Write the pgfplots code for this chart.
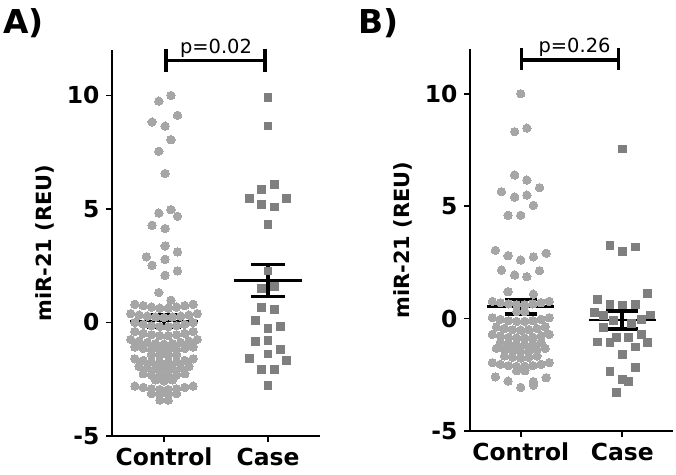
\documentclass[border=0pt]{standalone}
\usepackage{fontspec}
\setmainfont{DejaVu Sans}
\usepackage{pgfplots}
\pgfplotsset{compat=1.18}
\definecolor{ctrlgray}{RGB}{166,166,166}
\definecolor{casegray}{RGB}{127,127,127}
\pgfplotsset{
 panel/.style={
   scale only axis, clip=false,
   axis x line*=bottom, axis y line*=left,
   axis line style={line width=1.6bp, black},
   xmin=-0.5, xmax=1.5, ymin=-5, ymax=12,
   xtick={0,1}, xticklabels={Control,Case},
   ytick={-5,0,5,10}, yticklabels={-5,0,5,10},
   minor tick num=0,
   tick align=outside, major tick length=6bp,
   every tick/.style={line width=1.6bp, black},
   ticklabel style={font=\fontsize{23.5}{23.5}\selectfont\bfseries},
   xticklabel style={yshift=-5bp, inner sep=1bp},
   yticklabel style={xshift=-3bp},
   ylabel={miR-21 (REU)},
   ylabel shift=6bp,
   ylabel style={font=\fontsize{21}{21}\selectfont\bfseries},
 },
 ctrl/.style={only marks, color=ctrlgray, mark=*, mark size=4.2bp, mark options={solid, fill=ctrlgray, draw=ctrlgray, line width=0pt}},
 cas/.style={only marks, color=casegray, mark=square*, mark size=3.9bp, mark options={solid, fill=casegray, draw=casegray, line width=0pt}},
 meanl/.style={black, line width=2.5bp, mark=none},
 capl/.style={black, line width=3.5bp, mark=none},
 vl/.style={black, line width=4bp, mark=none},
 brk/.style={black, line width=3.3bp, mark=none},
}
\begin{document}
\begin{tikzpicture}
\path[use as bounding box] (0,0) rectangle (676bp,-475bp);
\node[anchor=base west, font=\fontsize{33}{33}\selectfont\bfseries, inner sep=0pt] at (3bp,-33bp) {A)};
\node[anchor=base west, font=\fontsize{33}{33}\selectfont\bfseries, inner sep=0pt] at (358bp,-33bp) {B)};

% ---------------- Panel A ----------------
\begin{axis}[panel, at={(112bp,-436bp)}, anchor=south west, width=208bp, height=386bp]
\addplot[ctrl] coordinates {
(0.067,10.0) (-0.05,9.75) (0.13,9.12) (-0.115,8.83) (0.01,8.65) (0.067,8.05) (-0.05,7.54) (0.01,6.56)
(0.067,4.97) (-0.05,4.82) (0.13,4.68) (-0.115,4.28) (0.01,4.14) (0.01,3.37) (0.13,3.11) (-0.17,2.89)
(0.01,2.78) (-0.115,2.52) (0.13,2.27) (0.01,2.08) (-0.05,1.32) (0.067,0.98)
(-0.28,0.80) (-0.20,0.74) (-0.12,0.68) (-0.04,0.63) (0.04,0.63) (0.12,0.68) (0.20,0.74) (0.28,0.80)
(-0.32,0.39) (-0.24,0.33) (-0.16,0.28) (-0.08,0.24) (0,0.22) (0.08,0.24) (0.16,0.28) (0.24,0.33) (0.32,0.39)
(-0.28,0.0) (-0.20,-0.08) (-0.12,-0.14) (-0.04,-0.18) (0.04,-0.18) (0.12,-0.14) (0.20,-0.08) (0.28,0.0)
(-0.28,-0.40) (-0.20,-0.48) (-0.12,-0.54) (-0.04,-0.58) (0.04,-0.58) (0.12,-0.54) (0.20,-0.48) (0.28,-0.40)
(-0.32,-0.75) (-0.24,-0.82) (-0.16,-0.88) (-0.08,-0.93) (0,-0.95) (0.08,-0.93) (0.16,-0.88) (0.24,-0.82) (0.32,-0.75)
(-0.28,-1.08) (-0.20,-1.14) (-0.12,-1.19) (-0.04,-1.22) (0.04,-1.22) (0.12,-1.19) (0.20,-1.14) (0.28,-1.08)
(-0.12,-1.41) (-0.04,-1.45) (0.04,-1.45) (0.12,-1.41)
(-0.28,-1.60) (-0.20,-1.67) (-0.12,-1.73) (-0.04,-1.76) (0.04,-1.76) (0.12,-1.73) (0.20,-1.67) (0.28,-1.60)
(-0.24,-1.93) (-0.16,-1.99) (-0.08,-2.04) (0,-2.06) (0.08,-2.04) (0.16,-1.99) (0.24,-1.93)
(-0.20,-2.26) (-0.12,-2.32) (-0.04,-2.36) (0.04,-2.36) (0.12,-2.32) (0.20,-2.26)
(-0.08,-2.53) (0,-2.57) (0.08,-2.53)
(-0.28,-2.80) (-0.20,-2.86) (-0.12,-2.92) (-0.04,-2.95) (0.04,-2.95) (0.12,-2.92) (0.20,-2.86) (0.28,-2.80)
(-0.12,-3.13) (-0.04,-3.17) (0.04,-3.17) (0.12,-3.13)
(-0.04,-3.42) (0.04,-3.42)
};
\addplot[cas] coordinates {
(1,9.9) (1,8.65) (1.06,6.07) (0.94,5.85) (0.82,5.46) (1.18,5.46) (0.94,5.19) (1.06,5.09) (1,4.32)
(1,2.27) (0.94,1.50) (1.06,1.57) (0.94,0.66) (1.06,0.57) (0.88,0.07) (1,-0.26) (1.12,-0.19)
(0.88,-0.85) (1,-0.81) (1.12,-1.19) (0.82,-1.60) (1,-1.39) (1.18,-1.66) (0.94,-2.07) (1.06,-2.07) (1,-2.76)
};
% mean and SEM, control
\addplot[meanl] coordinates {(-0.33,0.06) (0.33,0.06)};
\addplot[vl] coordinates {(0,0.33) (0,-0.21)};
\addplot[capl] coordinates {(-0.163,0.33) (0.163,0.33)};
\addplot[capl] coordinates {(-0.163,-0.21) (0.163,-0.21)};
% mean and SEM, case
\addplot[meanl] coordinates {(0.67,1.85) (1.33,1.85)};
\addplot[vl] coordinates {(1,2.56) (1,1.14)};
\addplot[capl] coordinates {(0.837,2.56) (1.163,2.56)};
\addplot[capl] coordinates {(0.837,1.14) (1.163,1.14)};
% bracket
\addplot[brk] coordinates {(0.02,12.06) (0.02,11.03)};
\addplot[brk] coordinates {(0.02,11.54) (0.97,11.54)};
\addplot[brk] coordinates {(0.97,12.06) (0.97,11.03)};
\node[anchor=base, font=\fontsize{19.5}{19.5}\selectfont, inner sep=0pt] at (axis cs:0.5,11.84) {p=0.02};
\end{axis}

% ---------------- Panel B ----------------
\begin{axis}[panel, at={(470bp,-431bp)}, anchor=south west, width=203bp, height=382bp]
\addplot[ctrl] coordinates {
(0,10.01) (0.06,8.48) (-0.06,8.32) (-0.06,6.39) (0.06,6.17) (0.185,5.83) (-0.19,5.65) (-0.06,5.41)
(0.06,5.50) (0.125,5.04) (-0.125,4.60) (0,4.60) (-0.25,3.04) (-0.125,2.80) (0,2.61) (0.125,2.75)
(0.25,2.91) (-0.19,2.16) (-0.06,1.94) (0.06,1.87) (0.185,2.13) (-0.125,1.20) (0.125,1.09)
(-0.28,0.77) (-0.20,0.71) (-0.12,0.66) (-0.04,0.62) (0.04,0.62) (0.12,0.66) (0.20,0.71) (0.28,0.77)
(-0.04,0.31) (0.04,0.31)
(-0.28,0.04) (-0.20,-0.03) (-0.12,-0.09) (-0.04,-0.12) (0.04,-0.12) (0.12,-0.09) (0.20,-0.03) (0.28,0.04)
(-0.24,-0.37) (-0.16,-0.44) (-0.08,-0.49) (0,-0.51) (0.08,-0.49) (0.16,-0.44) (0.24,-0.37)
(-0.28,-0.70) (-0.20,-0.77) (-0.12,-0.83) (-0.04,-0.86) (0.04,-0.86) (0.12,-0.83) (0.20,-0.77) (0.28,-0.70)
(-0.20,-1.06) (-0.12,-1.12) (-0.04,-1.16) (0.04,-1.16) (0.12,-1.12) (0.20,-1.06)
(-0.24,-1.32) (-0.16,-1.39) (-0.08,-1.44) (0,-1.46) (0.08,-1.44) (0.16,-1.39) (0.24,-1.32)
(-0.16,-1.66) (-0.08,-1.72) (0,-1.75) (0.08,-1.72) (0.16,-1.66)
(-0.28,-1.96) (-0.20,-2.03) (-0.12,-2.09) (-0.04,-2.12) (0.04,-2.12) (0.12,-2.09) (0.20,-2.03) (0.28,-1.96)
(-0.04,-2.32) (0.04,-2.32)
(-0.25,-2.59) (0.25,-2.63)
(-0.125,-2.78) (0.125,-2.80)
(0,-3.06) (0.125,-2.96)
};
\addplot[cas] coordinates {
(1,7.55) (0.88,3.26) (1,3.0) (1.13,3.19) (1.25,1.11) (0.76,0.84) (0.88,0.64) (1,0.61) (1.13,0.64)
(0.73,0.28) (0.815,0.13) (0.91,-0.09) (1.09,-0.21) (1.19,-0.02) (1.28,0.16) (0.815,-0.39)
(0.94,-0.83) (1.06,-0.83) (1.19,-0.69) (0.76,-1.04) (0.88,-1.05) (1.13,-1.26) (1.25,-1.05)
(1,-1.59) (0.88,-2.35) (1.13,-2.18) (1,-2.70) (1.06,-2.78) (0.94,-3.30)
};
\addplot[meanl] coordinates {(-0.33,0.53) (0.33,0.53)};
\addplot[vl] coordinates {(0,0.86) (0,0.20)};
\addplot[capl] coordinates {(-0.16,0.86) (0.16,0.86)};
\addplot[capl] coordinates {(-0.16,0.20) (0.16,0.20)};
\addplot[meanl] coordinates {(0.67,-0.06) (1.33,-0.06)};
\addplot[vl] coordinates {(1,0.35) (1,-0.46)};
\addplot[capl] coordinates {(0.84,0.35) (1.16,0.35)};
\addplot[capl] coordinates {(0.84,-0.46) (1.16,-0.46)};
\addplot[brk] coordinates {(0.01,12.06) (0.01,11.06)};
\addplot[brk] coordinates {(0.01,11.51) (0.96,11.51)};
\addplot[brk] coordinates {(0.96,12.06) (0.96,11.06)};
\node[anchor=base, font=\fontsize{19.5}{19.5}\selectfont, inner sep=0pt] at (axis cs:0.53,11.85) {p=0.26};
\end{axis}
\end{tikzpicture}
\end{document}
